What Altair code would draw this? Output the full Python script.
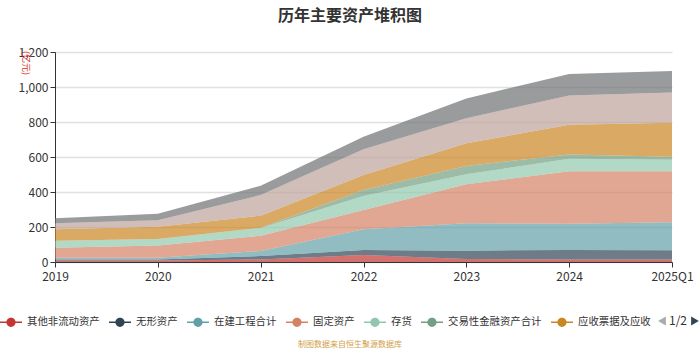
import altair as alt
import pandas as pd

periods = ["2019", "2020", "2021", "2022", "2023", "2024", "2025Q1"]
series = ["其他非流动资产", "无形资产", "在建工程合计", "固定资产", "存货",
          "交易性金融资产合计", "应收票据及应收", "货币资金", "其他资产"]
colors = ["#c23531", "#2f4554", "#61a0a8", "#d48265", "#91c7ae",
          "#749f83", "#ca8622", "#bda29a", "#6e7074"]

other_noncurrent = [8, 8, 15, 40, 17, 15, 15]
intangible = [7, 7, 19, 29, 48, 54, 52]
construction = [10, 10, 29, 118, 156, 150, 160]
fixed = [57, 70, 87, 110, 223, 299, 291]
inventory = [40, 36, 44, 80, 57, 72, 67]
trading = [0, 0, 2, 34, 48, 25, 17]
receivables = [65, 71, 69, 86, 129, 170, 194]
cash = [34, 36, 118, 147, 143, 167, 173]
other_assets = [29, 38, 53, 72, 114, 122, 122]

values = [other_noncurrent, intangible, construction, fixed, inventory,
          trading, receivables, cash, other_assets]

rows = []
for i, (name, vals) in enumerate(zip(series, values)):
    for p, v in zip(periods, vals):
        rows.append({"period": p, "series": name, "order": i, "value": v})
df = pd.DataFrame(rows)

FONT = "Noto Sans CJK SC"
sym_path = ("M-1,-0.07H1V0.07H-1Z "
            "M0.42,0A0.42,0.42,0,1,1,-0.42,0A0.42,0.42,0,1,1,0.42,0Z")

area = alt.Chart(df).mark_area(opacity=0.7).encode(
    x=alt.X("period:O", sort=periods, scale=alt.Scale(type="point", padding=0),
            axis=alt.Axis(title=None, labelAngle=0, grid=False, domainColor="#333",
                          tickColor="#333", tickSize=5, labelColor="#333",
                          labelFontSize=12, labelPadding=4, labelFont=FONT)),
    y=alt.Y("value:Q", stack="zero",
            scale=alt.Scale(domain=[0, 1200], nice=False),
            axis=alt.Axis(title=None, values=[0, 200, 400, 600, 800, 1000, 1200],
                          format=",d", domainColor="#333", tickColor="#333",
                          tickSize=5, labelColor="#333", labelFontSize=12,
                          labelPadding=2, gridColor="#e0e0e0", gridWidth=1.5,
                          labelFont=FONT)),
    color=alt.Color("series:N", sort=series,
                    scale=alt.Scale(domain=series, range=colors),
                    legend=alt.Legend(title=None, orient="none", direction="horizontal",
                                      legendX=-55, legendY=259, values=series[:7],
                                      symbolType=sym_path, symbolSize=484,
                                      symbolOpacity=1, symbolStrokeWidth=0,
                                      labelFontSize=10.4, labelFont=FONT,
                                      labelColor="#333", labelOffset=5,
                                      columnPadding=9)),
    order=alt.Order("order:Q", sort="ascending"),
)

unit = alt.Chart(pd.DataFrame({"t": ["(亿元)"]})).mark_text(
    angle=90, color="#e0312b", fontSize=9, font=FONT
).encode(text="t:N", x=alt.value(-29), y=alt.value(11))

footer = alt.Chart(pd.DataFrame({"t": ["制图数据来自恒生聚源数据库"]})).mark_text(
    color="#d1a049", fontSize=8, font=FONT
).encode(text="t:N", x=alt.value(295), y=alt.value(293))

pager_l = alt.Chart(pd.DataFrame({"t": ["<"]})).mark_point(
    shape="triangle-left", filled=True, color="#aaaaaa", size=80, opacity=1
).encode(x=alt.value(607), y=alt.value(269))
pager_t = alt.Chart(pd.DataFrame({"t": ["1/2"]})).mark_text(
    color="#333", fontSize=12, font=FONT
).encode(text="t:N", x=alt.value(623), y=alt.value(269))
pager_r = alt.Chart(pd.DataFrame({"t": [">"]})).mark_point(
    shape="triangle-right", filled=True, color="#2f4554", size=80, opacity=1
).encode(x=alt.value(640), y=alt.value(269))

chart = alt.layer(area, unit, footer, pager_l, pager_t, pager_r).properties(
    width=617, height=210,
    title=alt.TitleParams("历年主要资产堆积图", fontSize=16, fontWeight="bold",
                          color="#333", font=FONT, anchor="middle", dx=-13.5,
                          offset=22),
    autosize=alt.AutoSizeParams(type="none"),
    padding={"left": 55, "top": 52, "right": 28, "bottom": 88},
).configure_view(stroke=None)

chart.save("out.html", embed_options={"renderer": "svg", "actions": False})
